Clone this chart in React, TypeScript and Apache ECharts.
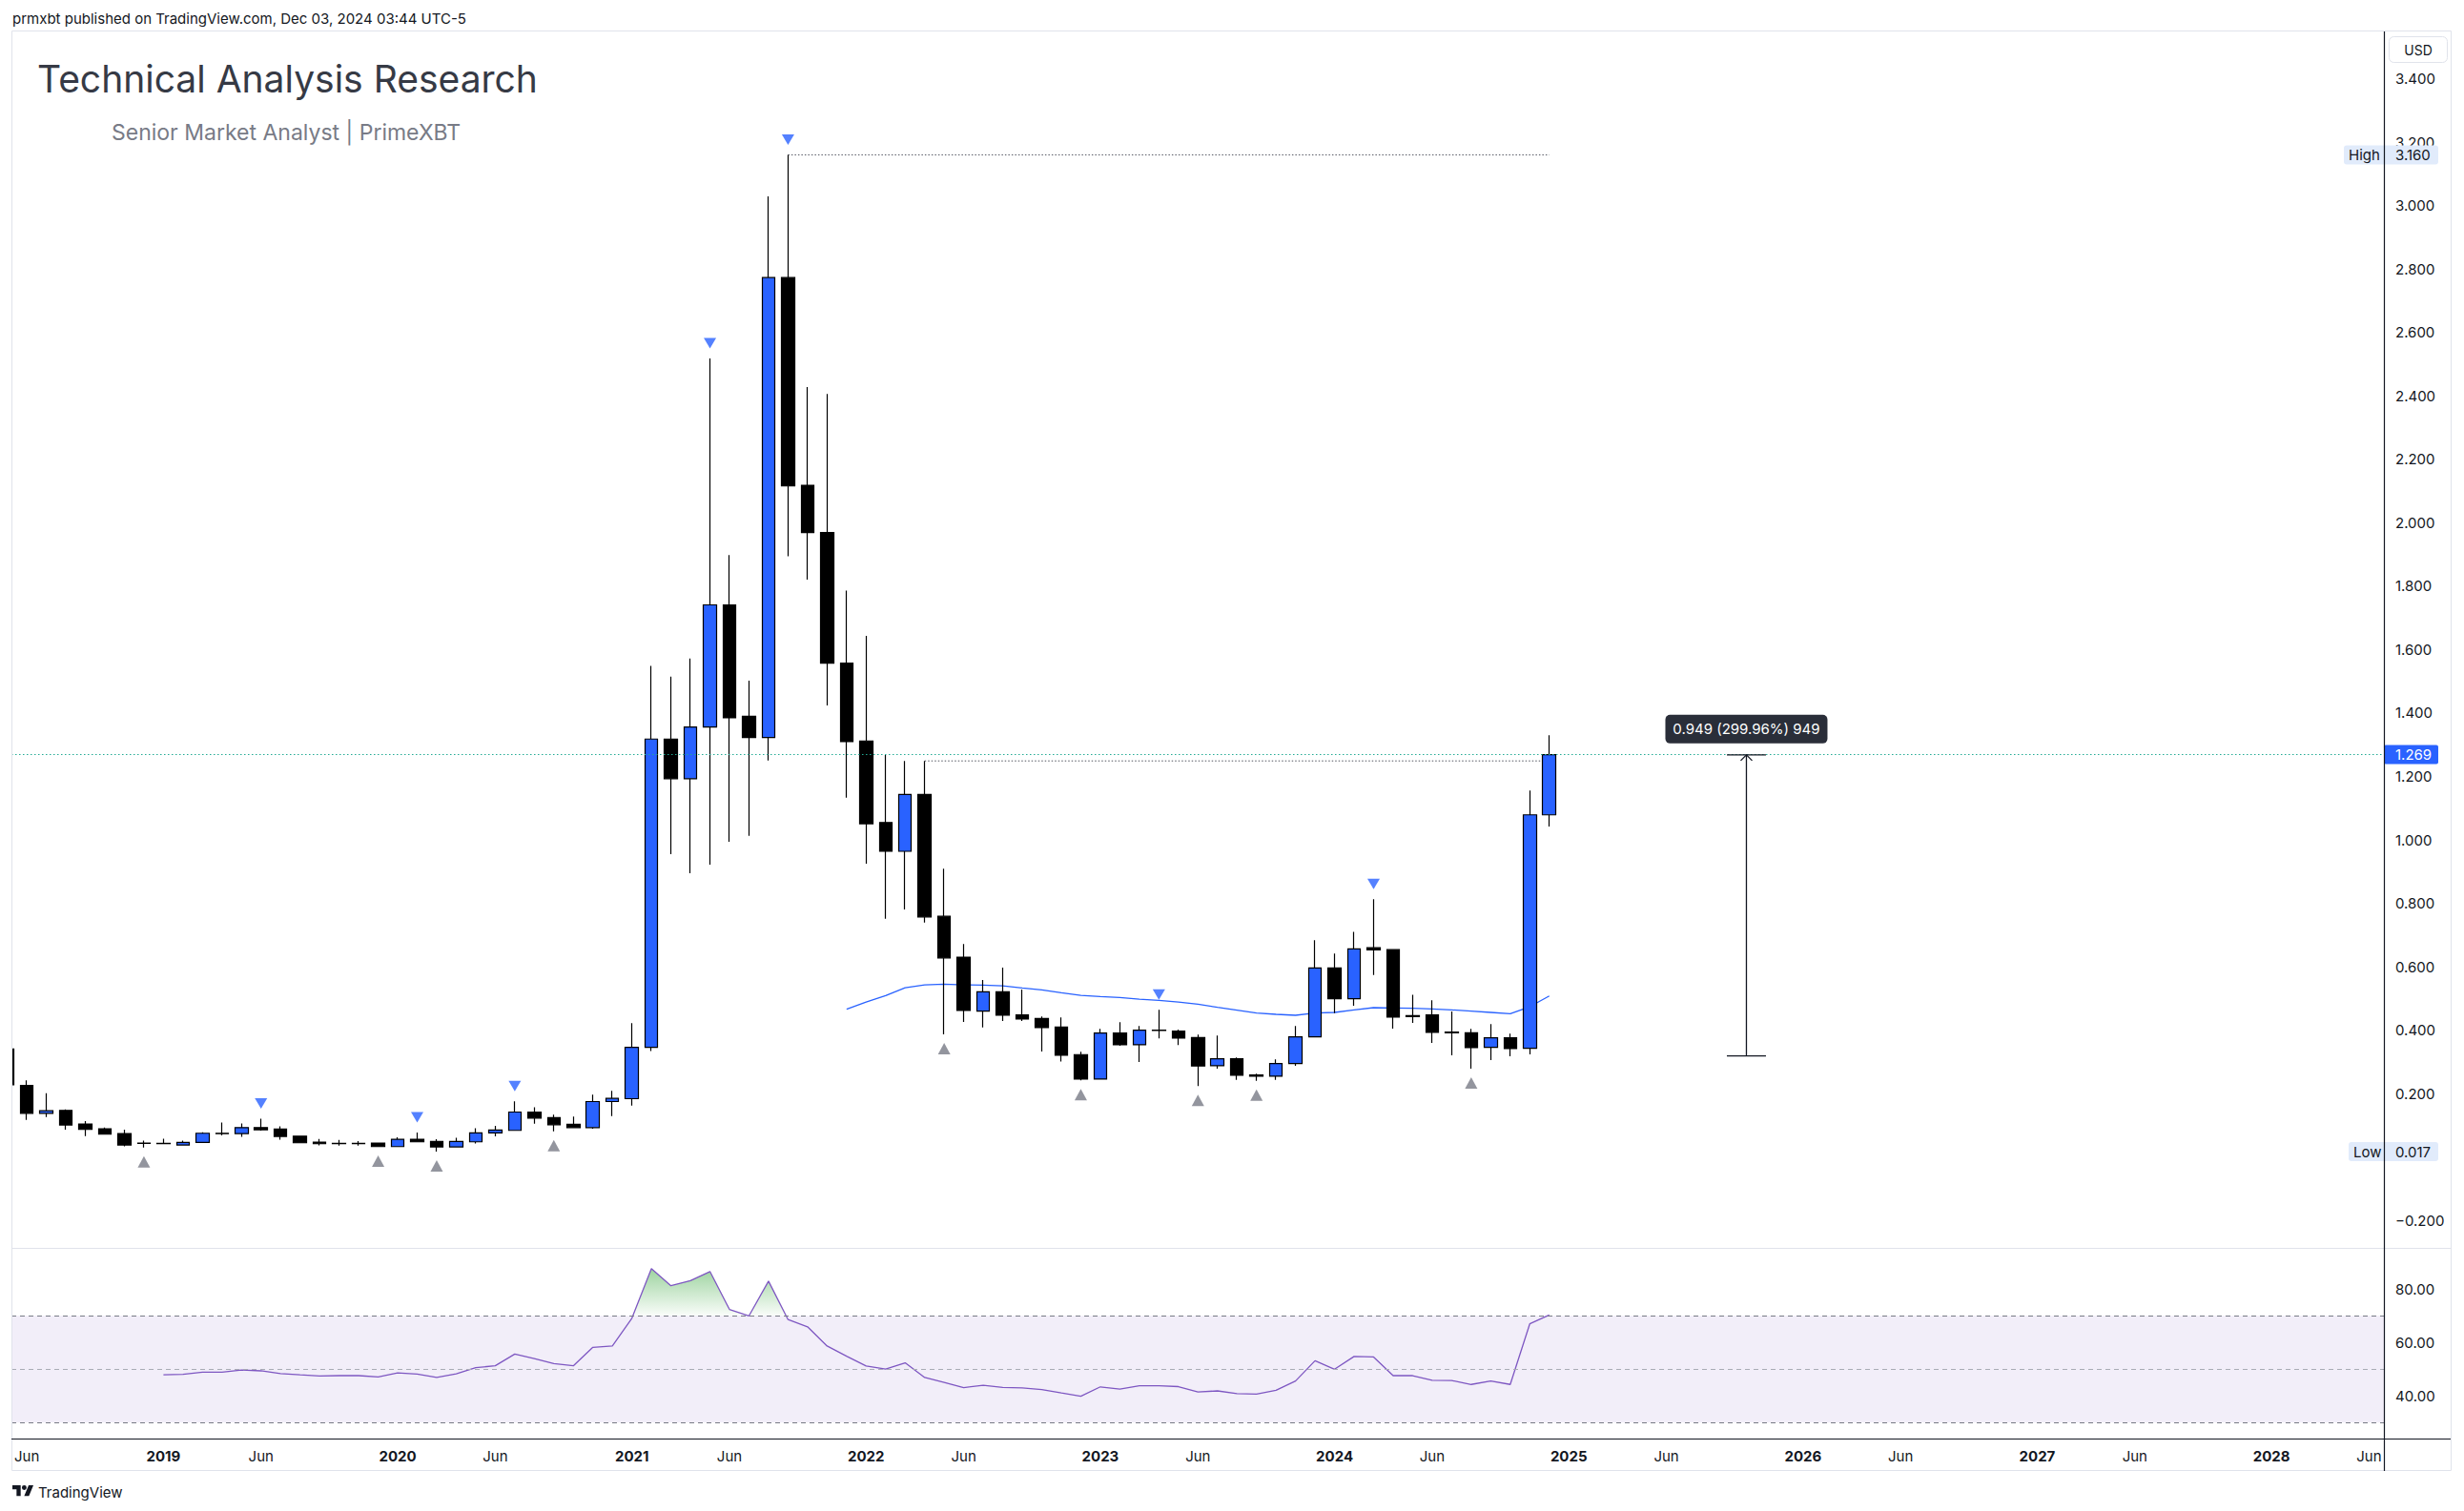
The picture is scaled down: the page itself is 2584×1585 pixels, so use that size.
import React, { useEffect, useRef } from 'react';
import * as echarts from 'echarts';

// ---------- DATA (monthly candles, month index relative to Jan 2019) ----------
const FIRST_MONTH = -8; // May 2018
const OPEN = [
  0.341, 0.226, 0.138, 0.147, 0.104, 0.089, 0.074, 0.044,
  0.043, 0.038, 0.046, 0.075, 0.074, 0.093, 0.088, 0.066, 0.047, 0.043, 0.043, 0.044,
  0.033, 0.056, 0.049, 0.032, 0.048, 0.076, 0.084, 0.142, 0.124, 0.103, 0.093, 0.175,
  0.184, 0.346, 1.318, 1.193, 1.356, 1.741, 1.390, 1.323, 2.773, 2.118, 1.969, 1.557,
  1.312, 1.055, 0.964, 1.143, 0.759, 0.630, 0.460, 0.521, 0.448, 0.437, 0.410, 0.323,
  0.246, 0.391, 0.354, 0.400, 0.397, 0.377, 0.288, 0.310, 0.259, 0.255, 0.295, 0.379,
  0.596, 0.499, 0.660, 0.654, 0.446, 0.448, 0.394, 0.392, 0.346, 0.376, 0.343, 1.079,
];
const HIGH = [
  0.420, 0.242, 0.201, 0.150, 0.113, 0.093, 0.086, 0.052,
  0.058, 0.052, 0.078, 0.109, 0.106, 0.121, 0.097, 0.067, 0.057, 0.054, 0.050, 0.045,
  0.062, 0.077, 0.056, 0.061, 0.091, 0.098, 0.176, 0.157, 0.134, 0.128, 0.197, 0.209,
  0.422, 1.549, 1.515, 1.572, 2.518, 1.898, 1.502, 3.029, 3.160, 2.428, 2.406, 1.786,
  1.643, 1.268, 1.249, 1.249, 0.909, 0.672, 0.558, 0.597, 0.528, 0.443, 0.440, 0.332,
  0.404, 0.425, 0.413, 0.464, 0.402, 0.386, 0.383, 0.314, 0.263, 0.308, 0.413, 0.684,
  0.642, 0.710, 0.813, 0.654, 0.512, 0.494, 0.459, 0.404, 0.419, 0.389, 1.156, 1.330,
];
const LOW = [
  0.210, 0.117, 0.126, 0.086, 0.066, 0.071, 0.034, 0.030,
  0.041, 0.037, 0.046, 0.068, 0.064, 0.083, 0.055, 0.044, 0.037, 0.036, 0.036, 0.032,
  0.033, 0.047, 0.017, 0.031, 0.043, 0.065, 0.084, 0.105, 0.081, 0.093, 0.089, 0.129,
  0.162, 0.334, 0.955, 0.895, 0.922, 0.994, 1.013, 1.250, 1.894, 1.821, 1.424, 1.133,
  0.925, 0.751, 0.781, 0.739, 0.387, 0.426, 0.409, 0.429, 0.429, 0.333, 0.301, 0.242,
  0.246, 0.351, 0.300, 0.374, 0.353, 0.224, 0.279, 0.243, 0.240, 0.243, 0.288, 0.379,
  0.454, 0.477, 0.574, 0.405, 0.423, 0.360, 0.321, 0.279, 0.306, 0.318, 0.324, 1.042,
];
const CLOSE = [
  0.228, 0.138, 0.146, 0.101, 0.087, 0.072, 0.038, 0.043,
  0.042, 0.046, 0.075, 0.074, 0.093, 0.086, 0.065, 0.045, 0.042, 0.042, 0.042, 0.033,
  0.056, 0.048, 0.032, 0.049, 0.076, 0.085, 0.142, 0.123, 0.102, 0.093, 0.175, 0.185,
  0.346, 1.318, 1.193, 1.356, 1.741, 1.385, 1.323, 2.773, 2.116, 1.969, 1.557, 1.310,
  1.051, 0.964, 1.143, 0.757, 0.628, 0.462, 0.521, 0.447, 0.435, 0.408, 0.321, 0.246,
  0.391, 0.354, 0.400, 0.399, 0.375, 0.287, 0.310, 0.258, 0.255, 0.295, 0.379, 0.596,
  0.499, 0.656, 0.653, 0.441, 0.443, 0.393, 0.392, 0.345, 0.376, 0.342, 1.079, 1.269,
];

const MA_START = 35; // Dec 2021
const MA = [
  0.466, 0.489, 0.509, 0.534, 0.543, 0.545, 0.543, 0.542, 0.540, 0.533, 0.527, 0.518,
  0.510, 0.506, 0.503, 0.498, 0.494, 0.489, 0.482, 0.472, 0.463, 0.454, 0.450, 0.447,
  0.454, 0.456, 0.464, 0.471, 0.470, 0.469, 0.467, 0.464, 0.460, 0.456, 0.452, 0.474, 0.508,
];

const RSI_START = 0; // Jan 2019
const RSI = [
  47.9, 48.1, 48.9, 48.9, 49.7, 49.4, 48.4, 47.9, 47.5, 47.6, 47.6, 47.1,
  48.6, 48.2, 46.9, 48.3, 50.6, 51.3, 55.7, 54.0, 52.1, 51.3, 58.2, 58.7,
  69.1, 87.7, 81.3, 83.2, 86.6, 72.4, 70.0, 83.0, 68.6, 65.9, 58.7, 54.9,
  51.2, 50.1, 52.4, 46.9, 45.1, 43.1, 44.0, 43.2, 43.0, 42.4, 41.1, 39.9,
  43.4, 42.6, 43.8, 43.8, 43.5, 41.5, 41.9, 40.9, 40.7, 42.1, 45.6, 53.2,
  50.0, 54.8, 54.6, 47.6, 47.6, 45.9, 45.8, 44.3, 45.6, 44.3, 67.0, 70.3,
];
const RSI_UPPER = 70;
const RSI_MID = 50;
const RSI_LOWER = 30;

const PIVOT_HIGHS = [-8, 5, 13, 18, 28, 32, 51, 62];
const PIVOT_LOWS = [-1, 11, 14, 20, 40, 47, 53, 56, 67];

const PRICE_TICKS = [-0.2, 0.2, 0.4, 0.6, 0.8, 1.0, 1.2, 1.4, 1.6, 1.8, 2.0, 2.2, 2.4, 2.6, 2.8, 3.0, 3.2, 3.4];
const RSI_TICKS = [40, 60, 80];
const TIME_TICKS = [-7, 0, 5, 12, 17, 24, 29, 36, 41, 48, 53, 60, 65, 72, 77, 84, 89, 96, 101, 108, 113];

const LAST_PRICE = 1.269;
const ALL_HIGH = 3.16;
const ALL_LOW = 0.017;
const HIGH_LINE = [[32, 3.16], [71, 3.16]];
const RES_LINE = [[39, 1.249], [71, 1.249]];
const MEASURE_MONTH = 81.1;
const MEASURE_FROM = 0.319;
const MEASURE_TO = 1.268;
const MEASURE_LABEL = '0.949 (299.96%) 949';

const HEADER = 'prmxbt published on TradingView.com, Dec 03, 2024 03:44 UTC-5';
const TITLE = 'Technical Analysis Research';
const SUBTITLE = 'Senior Market Analyst | PrimeXBT';

// ---------- styling ----------
const FONT = 'Inter, "Noto Sans", sans-serif';
const TXT = '#131722';
const BLUE = '#2962ff';

let logoRegistered = false;
function registerLogo() {
  if (logoRegistered) return;
  logoRegistered = true;
  echarts.graphic.registerShape(
    'tvlogo',
    echarts.graphic.extendPath('M14 22H7V11H0V4h14v18zM28 22h-8l7.5-18h8L28 22zM16 8a4 4 0 1 0 8 0a4 4 0 1 0 -8 0z', {})
  );
}

const fmtPrice = (v: number) => (v < 0 ? '\u2212' + Math.abs(v).toFixed(3) : v.toFixed(3));

// overbought region polygon (RSI clipped at the upper band, with crossings interpolated)
function overboughtPolygon(): number[][] {
  const pts: number[][] = [[RSI_START, RSI_UPPER]];
  for (let i = 0; i < RSI.length; i++) {
    const m = RSI_START + i;
    const v = RSI[i];
    if (i > 0) {
      const pv = RSI[i - 1];
      if ((pv - RSI_UPPER) * (v - RSI_UPPER) < 0) {
        const t = (RSI_UPPER - pv) / (v - pv);
        pts.push([m - 1 + t, RSI_UPPER]);
      }
    }
    pts.push([m, Math.max(v, RSI_UPPER)]);
  }
  pts.push([RSI_START + RSI.length - 1, RSI_UPPER]);
  return pts;
}

export default function App() {
  const ref = useRef<HTMLDivElement>(null);

  useEffect(() => {
    registerLogo();
    const el = ref.current!;
    const chart = echarts.init(el, null, { renderer: 'svg' });

    const candles = OPEN.map((o, i) => [FIRST_MONTH + i, o, CLOSE[i], LOW[i], HIGH[i]]);
    const maData = MA.map((v, i) => [MA_START + i, v]);
    const rsiData = RSI.map((v, i) => [RSI_START + i, v]);
    const phData = PIVOT_HIGHS.map((m) => [m, HIGH[m - FIRST_MONTH]]);
    const plData = PIVOT_LOWS.map((m) => [m, LOW[m - FIRST_MONTH]]);
    const obPoly = overboughtPolygon();

    const X_MIN = -7.787;
    const X_MAX = 113.76;

    const option: any = {
      animation: false,
      backgroundColor: '#ffffff',
      grid: [
        { left: 12, top: 33, width: 2488, height: 1276 },
        { left: 12, top: 1310, width: 2488, height: 199 },
      ],
      xAxis: [
        { type: 'value', gridIndex: 0, min: X_MIN, max: X_MAX, show: false, splitLine: { show: false } },
        {
          type: 'value', gridIndex: 1, min: X_MIN, max: X_MAX,
          axisLine: { show: false }, axisTick: { show: false }, splitLine: { show: false },
          axisLabel: {
            customValues: TIME_TICKS,
            margin: 18,
            verticalAlign: 'middle',
            fontSize: 15,
            fontFamily: FONT,
            color: TXT,
            formatter: (v: number) => {
              const mo = ((v % 12) + 12) % 12;
              const yr = 2019 + Math.floor(v / 12);
              return mo === 0 ? '{y|' + yr + '}' : 'Jun';
            },
            rich: { y: { fontSize: 15, fontWeight: 'bold', fontFamily: FONT, color: TXT } },
          },
        },
      ],
      yAxis: [
        {
          type: 'value', gridIndex: 0, position: 'right', min: -0.2864, max: 3.549,
          axisLine: { show: false }, axisTick: { show: false }, splitLine: { show: false },
          axisLabel: { customValues: PRICE_TICKS, formatter: fmtPrice, margin: 12, fontSize: 15, fontFamily: FONT, color: TXT },
        },
        {
          type: 'value', gridIndex: 1, position: 'right', min: 24.04, max: 95.1,
          axisLine: { show: false }, axisTick: { show: false }, splitLine: { show: false },
          axisLabel: { customValues: RSI_TICKS, formatter: (v: number) => v.toFixed(2), margin: 12, fontSize: 15, fontFamily: FONT, color: TXT },
        },
      ],
      series: [
        {
          type: 'candlestick', xAxisIndex: 0, yAxisIndex: 0, data: candles, barWidth: 14,
          itemStyle: { color: BLUE, color0: '#000000', borderColor: '#000000', borderColor0: '#000000', borderColorDoji: '#000000', borderWidth: 1.2 },
          markLine: {
            silent: true, symbol: ['none', 'none'], label: { show: false },
            lineStyle: { color: '#22ab94', type: [1.5, 2.5], width: 1 },
            data: [{ yAxis: LAST_PRICE }],
          },
          z: 3,
        },
        {
          type: 'line', xAxisIndex: 0, yAxisIndex: 0, data: maData, showSymbol: false, symbol: 'none',
          lineStyle: { color: BLUE, width: 1.3 }, z: 2,
        },
        {
          type: 'line', xAxisIndex: 0, yAxisIndex: 0, data: HIGH_LINE, showSymbol: false, symbol: 'none',
          lineStyle: { color: '#50535e', width: 1, type: [1.5, 2] }, z: 2,
        },
        {
          type: 'line', xAxisIndex: 0, yAxisIndex: 0, data: RES_LINE, showSymbol: false, symbol: 'none',
          lineStyle: { color: '#50535e', width: 1, type: [1.5, 2] }, z: 2,
        },
        {
          type: 'scatter', xAxisIndex: 0, yAxisIndex: 0, data: phData,
          symbol: 'path://M0 0 L12 0 L6 10 Z', symbolSize: [13, 11], symbolOffset: [0, -16],
          itemStyle: { color: BLUE }, z: 4,
        },
        {
          type: 'scatter', xAxisIndex: 0, yAxisIndex: 0, data: plData,
          symbol: 'path://M6 0 L12 10 L0 10 Z', symbolSize: [13, 12], symbolOffset: [0, 15],
          itemStyle: { color: '#787b86' }, z: 4,
        },
        {
          type: 'custom', xAxisIndex: 1, yAxisIndex: 1, silent: true, z: 1,
          data: [[RSI_START, RSI_UPPER]],
          encode: { x: 0, y: 1 },
          renderItem: (params: any, api: any) => ({
            type: 'polygon',
            shape: { points: obPoly.map((p) => api.coord(p)) },
            style: {
              fill: new echarts.graphic.LinearGradient(0, 0, 0, 1, [
                { offset: 0, color: 'rgba(76,175,80,0.55)' },
                { offset: 1, color: 'rgba(76,175,80,0.03)' },
              ]),
            },
          }),
        },
        {
          type: 'line', xAxisIndex: 1, yAxisIndex: 1, data: rsiData, showSymbol: false, symbol: 'none',
          lineStyle: { color: '#7e57c2', width: 1.3 }, z: 3,
          markArea: {
            silent: true,
            itemStyle: { color: 'rgba(126,87,194,0.1)' },
            data: [[{ yAxis: RSI_LOWER }, { yAxis: RSI_UPPER }]],
          },
          markLine: {
            silent: true, symbol: ['none', 'none'], label: { show: false },
            data: [
              { yAxis: RSI_UPPER, lineStyle: { color: '#787b86', type: [5, 4], width: 1 } },
              { yAxis: RSI_MID, lineStyle: { color: '#a9acb5', type: [5, 4], width: 1 } },
              { yAxis: RSI_LOWER, lineStyle: { color: '#787b86', type: [5, 4], width: 1 } },
            ],
          },
        },
      ],
    };

    chart.setOption(option);

    const py = (p: number) => chart.convertToPixel({ yAxisIndex: 0 } as any, p) as number;
    const pt = (m: number, p: number) => chart.convertToPixel({ gridIndex: 0 } as any, [m, p]) as number[];

    const hy = py(ALL_HIGH);
    const ly = py(ALL_LOW);
    const cy = py(LAST_PRICE);
    const mTop = pt(MEASURE_MONTH, MEASURE_TO);
    const mBot = pt(MEASURE_MONTH, MEASURE_FROM);
    const mx = mTop[0];

    const txt = (x: number, y: number, text: string, size: number, fill: string, extra: any = {}) => ({
      type: 'text', x, y, z: 120,
      style: { text, fontSize: size, fontFamily: FONT, fill, align: 'left', verticalAlign: 'middle', ...extra },
    });

    const graphic: any[] = [
      // mask left of the pane (clips the partially visible first candle)
      { type: 'rect', z: 50, shape: { x: 0, y: 33, width: 12.5, height: 1510 }, style: { fill: '#ffffff' } },
      // frame
      { type: 'rect', z: 60, shape: { x: 12.5, y: 32.5, width: 2558, height: 1510 }, style: { fill: 'none', stroke: '#e0e3eb', lineWidth: 1 } },
      { type: 'line', z: 60, shape: { x1: 12, y1: 1309.5, x2: 2570, y2: 1309.5 }, style: { stroke: '#e0e3eb', lineWidth: 1 } },
      // header and titles
      txt(13, 19, HEADER, 15, TXT),
      txt(39, 82, TITLE, 39, '#363a45'),
      txt(117, 139, SUBTITLE, 23, '#787b86'),
      // USD box
      { type: 'rect', z: 120, shape: { x: 2505.5, y: 38.5, width: 61, height: 27, r: 5 }, style: { fill: '#ffffff', stroke: '#e0e3eb', lineWidth: 1 } },
      txt(2536, 52.5, 'USD', 14, TXT, { align: 'center' }),
      // High label
      { type: 'rect', z: 115, shape: { x: 2458, y: hy - 10, width: 99, height: 20, r: 3 }, style: { fill: '#e1ebfb' } },
      txt(2463, hy, 'High', 15, TXT),
      txt(2512, hy, ALL_HIGH.toFixed(3), 15, TXT),
      // Low label
      { type: 'rect', z: 115, shape: { x: 2463, y: ly - 10, width: 94, height: 20, r: 3 }, style: { fill: '#e1ebfb' } },
      txt(2468, ly, 'Low', 15, TXT),
      txt(2512, ly, ALL_LOW.toFixed(3), 15, TXT),
      // current price label
      { type: 'rect', z: 115, shape: { x: 2500, y: cy - 10, width: 57, height: 20, r: 2 }, style: { fill: BLUE } },
      txt(2512, cy, LAST_PRICE.toFixed(3), 15, '#ffffff'),
      // axis lines
      { type: 'line', z: 130, shape: { x1: 2500.5, y1: 33, x2: 2500.5, y2: 1543 }, style: { stroke: '#131722', lineWidth: 1.2 } },
      { type: 'line', z: 130, shape: { x1: 12, y1: 1509.5, x2: 2570, y2: 1509.5 }, style: { stroke: '#131722', lineWidth: 1.2 } },
      // measurement
      { type: 'line', z: 120, shape: { x1: mx, y1: mTop[1], x2: mx, y2: mBot[1] }, style: { stroke: '#131722', lineWidth: 1.3 } },
      { type: 'line', z: 120, shape: { x1: mx - 20.5, y1: mTop[1], x2: mx + 20.5, y2: mTop[1] }, style: { stroke: '#131722', lineWidth: 1.3 } },
      { type: 'line', z: 120, shape: { x1: mx - 20.5, y1: mBot[1], x2: mx + 20.5, y2: mBot[1] }, style: { stroke: '#131722', lineWidth: 1.3 } },
      { type: 'polyline', z: 120, shape: { points: [[mx - 6, mTop[1] + 6], [mx, mTop[1]], [mx + 6, mTop[1] + 6]] }, style: { stroke: '#131722', fill: 'none', lineWidth: 1.3 } },
      { type: 'rect', z: 120, shape: { x: mx - 85, y: mTop[1] - 42, width: 170, height: 30, r: 5 }, style: { fill: '#2a2e39' } },
      txt(mx, mTop[1] - 27, MEASURE_LABEL, 15, '#ffffff', { align: 'center' }),
      // TradingView footer
      { type: 'tvlogo', z: 120, x: 13, y: 1555.5, scaleX: 0.62, scaleY: 0.62, style: { fill: '#131722' } },
      txt(40, 1565, 'TradingView', 15, TXT),
    ];

    chart.setOption({ graphic });

    return () => chart.dispose();
  }, []);

  return (
    <div
      ref={ref}
      style={{ position: 'fixed', left: 0, top: 0, width: 2584, height: 1585, background: '#ffffff' }}
    />
  );
}
